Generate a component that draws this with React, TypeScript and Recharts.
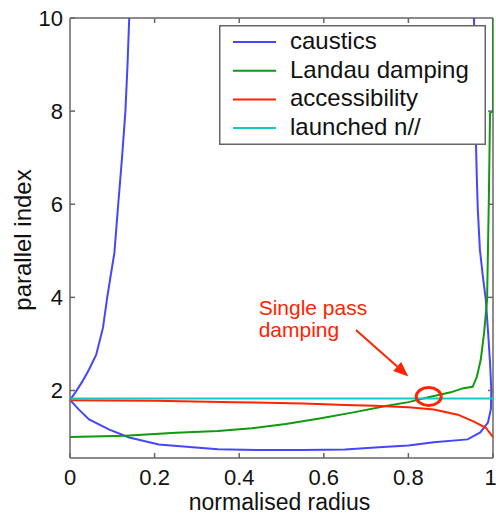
import { Label, Legend, Line, LineChart, ReferenceDot, ReferenceLine, XAxis, YAxis } from "recharts"

const FONT = '"Liberation Sans", Arial, Helvetica, sans-serif'
const AXIS = "#666666"
const BLUE = "#4646ff"
const GREEN = "#0f9a0f"
const RED = "#ff2400"
const CYAN = "#12c8c8"

const seriesNames = ["caustics", "Landau damping", "accessibility", "launched n//"]
const radiusTicks = [0, 0.2, 0.4, 0.6, 0.8, 1]
const indexTicks = [2, 4, 6, 8, 10]
const indexMin = 0.55
const indexMax = 10

// caustics: closed curve, upper-left branch -> lower branch -> upper-right branch
const causticsR = [
  0.14, 0.136, 0.131, 0.123, 0.114, 0.105, 0.095, 0.088, 0.078, 0.062, 0.045, 0.029, 0.012, 0,
  0.02, 0.045, 0.093, 0.14, 0.21, 0.29, 0.35, 0.45, 0.55, 0.65, 0.73, 0.8, 0.86, 0.94, 0.97, 0.988, 0.995,
  0.996, 0.993, 0.988, 0.983, 0.976, 0.969, 0.964, 0.962, 0.96, 0.958, 0.955,
]
const causticsN = [
  10, 9, 8, 7, 6, 4.96, 4.4, 4.0, 3.35, 2.77, 2.45, 2.19, 1.95, 1.8,
  1.6, 1.38, 1.16, 0.99, 0.84, 0.78, 0.74, 0.72, 0.72, 0.73, 0.78, 0.82, 0.89, 0.95, 1.1, 1.31, 1.6,
  2.0, 2.6, 3.3, 3.95, 4.45, 5.03, 5.9, 6.5, 7.2, 8.5, 10,
]

const landauR = [0, 0.13, 0.25, 0.35, 0.43, 0.51, 0.59, 0.67, 0.75, 0.8, 0.85, 0.9, 0.93, 0.952, 0.962, 0.971, 0.979, 0.986, 0.99, 0.993, 1.0, 1.0]
const landauN = [1.0, 1.03, 1.09, 1.13, 1.19, 1.28, 1.4, 1.53, 1.67, 1.75, 1.86, 1.96, 2.05, 2.08, 2.3, 2.66, 3.24, 3.95, 6.0, 7.96, 8.0, 10]

const accessR = [0, 0.2, 0.39, 0.55, 0.65, 0.72, 0.8, 0.86, 0.917, 0.955, 0.983, 1.0]
const accessN = [1.79, 1.78, 1.75, 1.72, 1.69, 1.67, 1.64, 1.59, 1.48, 1.33, 1.2, 1.0]

const launchedR = [0, 1]
const launchedN = [1.83, 1.83]

const toPoints = (r: number[], n: number[]) => r.map((x, i) => ({ r: x, n: n[i] }))

function LegendBox({ payload }: any) {
  const items = (payload || [])
    .filter((p: any) => seriesNames.includes(p.value))
    .sort((a: any, b: any) => seriesNames.indexOf(a.value) - seriesNames.indexOf(b.value))
  return (
    <svg width={267} height={120} style={{ display: "block" }}>
      <rect x={0.75} y={0.75} width={265.5} height={118.5} fill="#fff" stroke={AXIS} strokeWidth={1.5} />
      {items.map((p: any, i: number) => {
        const y = 17 + i * 28.7
        return (
          <g key={p.value}>
            <line x1={14} x2={57} y1={y} y2={y} stroke={p.color} strokeWidth={2} />
            <text x={71} y={y + 7} fontSize={24} fontFamily={FONT} fill="#111">
              {p.value}
            </text>
          </g>
        )
      })}
    </svg>
  )
}

function YTitle(props: any) {
  const vb = props.viewBox || { x: 0, y: 18, width: 70, height: 440 }
  const cx = vb.x + 31
  const cy = vb.y + vb.height / 2 + 2
  return (
    <text x={cx} y={cy} transform={`rotate(-90 ${cx} ${cy})`} textAnchor="middle" fontSize={24} fontFamily={FONT} fill="#111">
      parallel index
    </text>
  )
}

function XTitle(props: any) {
  const vb = props.viewBox || { x: 70, y: 458, width: 423, height: 57 }
  return (
    <text x={vb.x + vb.width / 2 - 2} y={vb.y + 52} textAnchor="middle" fontSize={23} fontFamily={FONT} fill="#111">
      normalised radius
    </text>
  )
}

function Arrow(p: any) {
  const { x1, y1, x2, y2 } = p
  const a = Math.atan2(y2 - y1, x2 - x1)
  const len = 15
  const half = 6
  const bx = x2 - len * Math.cos(a)
  const by = y2 - len * Math.sin(a)
  const pts = [
    [x2, y2],
    [bx + half * Math.sin(a), by - half * Math.cos(a)],
    [bx - half * Math.sin(a), by + half * Math.cos(a)],
  ]
  return (
    <g>
      <line x1={x1} y1={y1} x2={bx} y2={by} stroke={RED} strokeWidth={2} />
      <polygon points={pts.map((q) => q.join(",")).join(" ")} fill={RED} />
    </g>
  )
}

// inward tick marks on the top and right edges of the box
const TopTick = (p: any) => <line x1={p.cx} x2={p.cx} y1={p.cy} y2={p.cy + 5} stroke={AXIS} strokeWidth={1.5} />
const RightTick = (p: any) => <line x1={p.cx} x2={p.cx - 5} y1={p.cy} y2={p.cy} stroke={AXIS} strokeWidth={1.5} />

const tickStyle = { fontSize: 22, fontFamily: FONT, fill: "#111" }

export default function App() {
  return (
    <div style={{ position: "absolute", left: 0, top: 0, background: "#fff" }}>
      <LineChart width={496} height={515} margin={{ top: 18, right: 3, bottom: 0, left: 0 }}>
        <XAxis
          dataKey="r"
          type="number"
          domain={[0, 1]}
          ticks={radiusTicks}
          allowDataOverflow
          height={57}
          tickSize={-5}
          tickMargin={16}
          tick={tickStyle}
          stroke={AXIS}
          strokeWidth={1.5}
        >
          <Label content={XTitle} />
        </XAxis>
        <YAxis
          dataKey="n"
          type="number"
          domain={[indexMin, indexMax]}
          ticks={indexTicks}
          allowDataOverflow
          width={70}
          tickSize={-5}
          tickMargin={12}
          tick={tickStyle}
          stroke={AXIS}
          strokeWidth={1.5}
        >
          <Label content={YTitle} />
        </YAxis>
        <ReferenceLine y={indexMax} stroke={AXIS} strokeWidth={1.5} ifOverflow="visible" />
        <ReferenceLine x={1} stroke={AXIS} strokeWidth={1.5} ifOverflow="visible" />
        {radiusTicks.slice(1, -1).map((t) => (
          <ReferenceDot key={`tt${t}`} x={t} y={indexMax} r={0} ifOverflow="visible" shape={TopTick} />
        ))}
        {indexTicks.slice(0, -1).map((t) => (
          <ReferenceDot key={`rt${t}`} x={1} y={t} r={0} ifOverflow="visible" shape={RightTick} />
        ))}
        <Line data={toPoints(causticsR, causticsN)} dataKey="n" name="caustics" type="linear" stroke={BLUE} strokeWidth={2} dot={false} isAnimationActive={false} />
        <Line data={toPoints(landauR, landauN)} dataKey="n" name="Landau damping" type="linear" stroke={GREEN} strokeWidth={2} dot={false} isAnimationActive={false} />
        <Line data={toPoints(accessR, accessN)} dataKey="n" name="accessibility" type="linear" stroke={RED} strokeWidth={2} dot={false} isAnimationActive={false} />
        <Line data={toPoints(launchedR, launchedN)} dataKey="n" name="launched n//" type="linear" stroke={CYAN} strokeWidth={2} dot={false} isAnimationActive={false} />
        <ReferenceLine segment={[{ x: 0.676, y: 3.3 }, { x: 0.8, y: 2.3 }]} shape={Arrow} />
        <ReferenceDot
          x={0.848}
          y={1.87}
          r={0}
          shape={(p: any) => <ellipse cx={p.cx} cy={p.cy} rx={12.5} ry={9} fill="none" stroke={RED} strokeWidth={3} />}
        />
        <ReferenceDot
          x={0.446}
          y={3.63}
          r={0}
          shape={(p: any) => (
            <text x={p.cx} y={p.cy} fontSize={21} fontFamily={FONT} fill={RED}>
              <tspan x={p.cx}>Single pass</tspan>
              <tspan x={p.cx} dy={22}>damping</tspan>
            </text>
          )}
        />
        <Legend
          layout="vertical"
          align="center"
          verticalAlign="middle"
          content={LegendBox}
          wrapperStyle={{ left: 219, top: 25, width: 267, height: 120 }}
        />
      </LineChart>
    </div>
  )
}
